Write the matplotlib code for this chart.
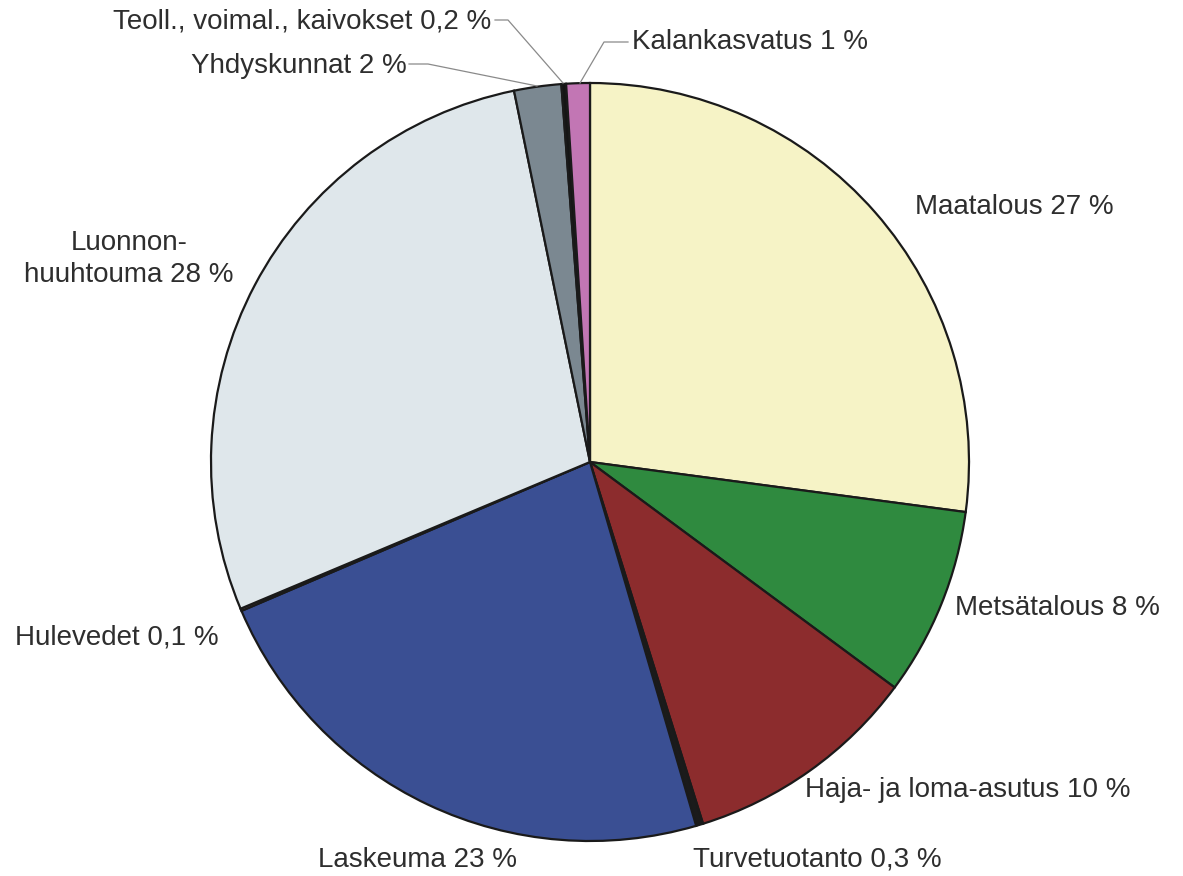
import matplotlib.pyplot as plt

# Kuormituslähteet, osuudet prosentteina (myötäpäivään klo 12:sta)
labels = ["Maatalous", "Metsätalous", "Haja- ja loma-asutus", "Turvetuotanto",
          "Laskeuma", "Hulevedet", "Luonnonhuuhtouma", "Yhdyskunnat",
          "Teoll., voimal., kaivokset", "Kalankasvatus"]
shares = [27, 8, 10, 0.3, 23, 0.1, 28, 2, 0.2, 1]
share_text = ["27", "8", "10", "0,3", "23", "0,1", "28", "2", "0,2", "1"]
colors = ["#f6f3c6", "#2f8a3f", "#8c2c2d", "#1b1b1b", "#3a4f93",
          "#d98a8a", "#dfe7eb", "#7b8891", "#151515", "#c276b4"]

W, H = 1183, 876
fig = plt.figure(figsize=(W / 100, H / 100), dpi=100)
ax = fig.add_axes([0, 0, 1, 1])

cx, cy, r = 590, H - 462, 379
ax.pie(shares, colors=colors, startangle=90, counterclock=False,
       center=(cx, cy), radius=r, frame=True,
       wedgeprops=dict(edgecolor="#1a1a1a", linewidth=1.6))
ax.set_xlim(0, W)
ax.set_ylim(0, H)
ax.axis("off")

txt = dict(fontsize=20, color="#2e2e2e", family="Liberation Sans", va="center")


def put(x, y, s, **kw):
    ax.text(x, H - y, s, **{**txt, **kw})


def lead(pts):
    ax.plot([p[0] for p in pts], [H - p[1] for p in pts], color="#8a8a8a", lw=0.9)


lab = {n: f"{n} {t} %" for n, t in zip(labels, share_text)}
put(915, 207, lab["Maatalous"])
put(955, 608, lab["Metsätalous"])
put(805, 790, lab["Haja- ja loma-asutus"])
put(693, 860, lab["Turvetuotanto"])
put(318, 860, lab["Laskeuma"])
put(15, 638, lab["Hulevedet"])
put(129, 259, "Luonnon-\nhuuhtouma 28 %", ha="center", multialignment="center",
    linespacing=1.3)
put(491, 22, lab["Teoll., voimal., kaivokset"], ha="right")
put(407, 66, lab["Yhdyskunnat"], ha="right")
put(632, 42, lab["Kalankasvatus"])

lead([(495, 20), (508, 20), (563, 83)])
lead([(409, 64), (428, 64), (537, 86)])
lead([(628, 42), (604, 42), (580, 83)])

fig.savefig("out.png", dpi=100, facecolor="white")
